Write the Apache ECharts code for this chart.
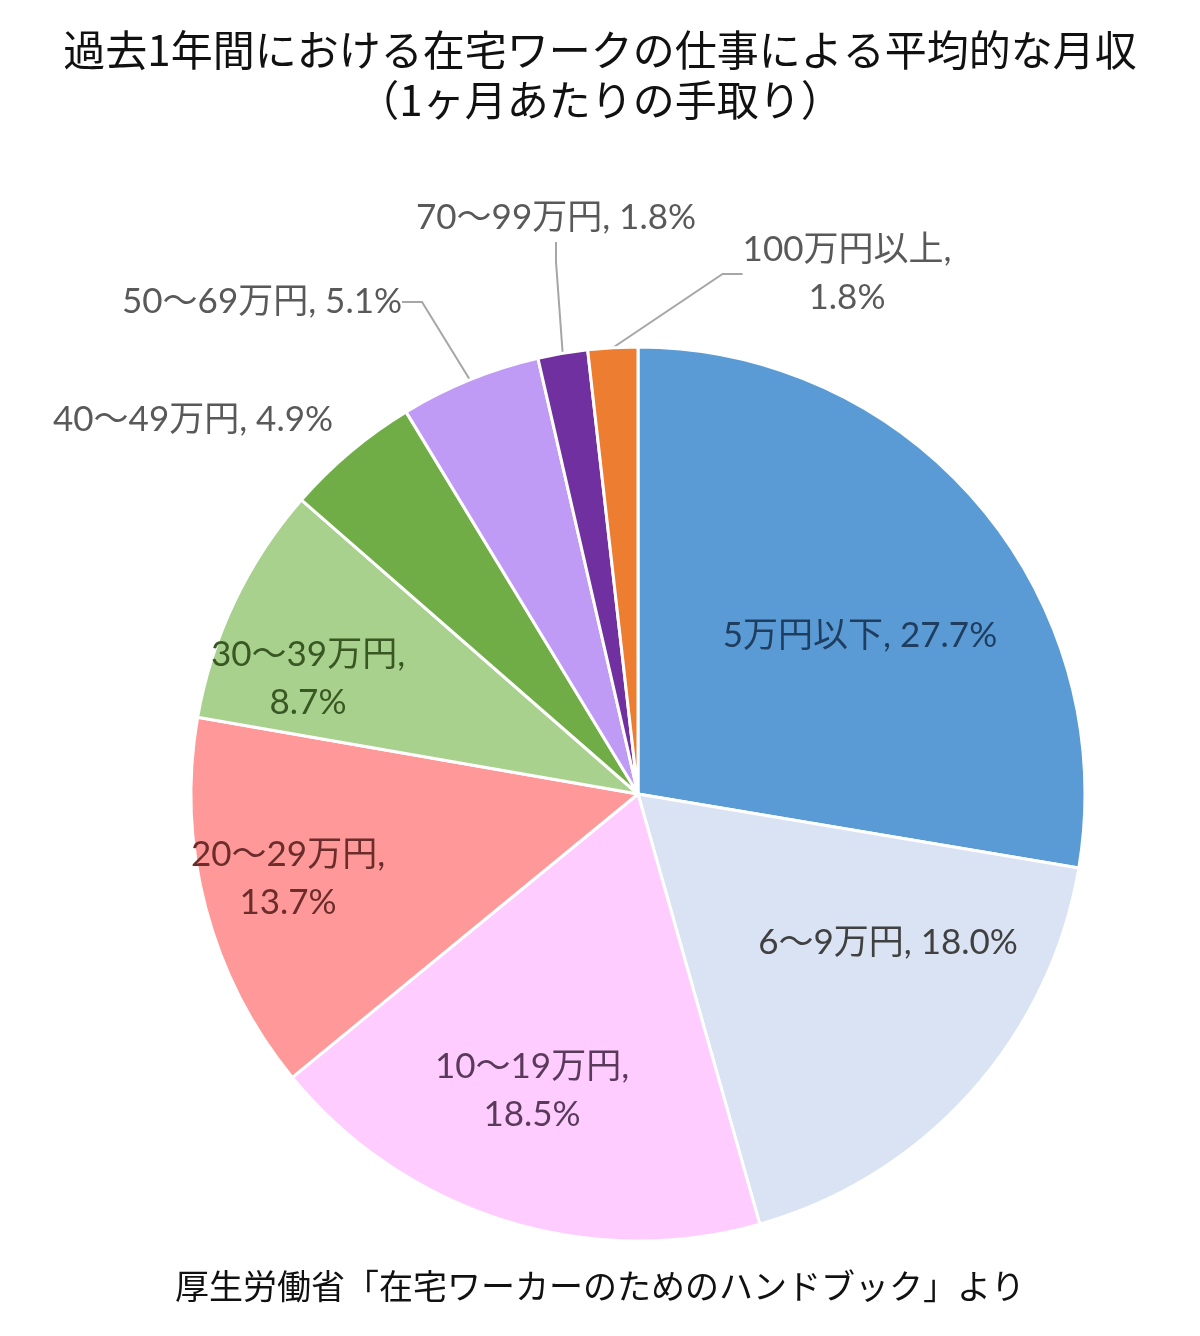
<!DOCTYPE html>
<html>
<head>
<meta charset="utf-8">
<script src="https://cdn.jsdelivr.net/npm/echarts@6/dist/echarts.min.js"></script>
<style>
  html, body { margin: 0; padding: 0; background: #fff; }
  #chart { width: 1200px; height: 1336px; }
</style>
</head>
<body>
<div id="chart"></div>
<script>
// 区分と割合 (%)
const categories = ['5万円以下', '6～9万円', '10～19万円', '20～29万円', '30～39万円', '40～49万円', '50～69万円', '70～99万円', '100万円以上']
const shares = [27.7, 18.0, 18.5, 13.7, 8.7, 4.9, 5.1, 1.8, 1.8]

const colors = ['#5B9BD5', '#DAE3F3', '#FFCCFF', '#FF9999', '#A9D18E', '#70AD47', '#BF9BF5', '#7030A0', '#ED7D31']
const labelColors = ['#1F3D5E', '#404040', '#5A3A5A', '#6B2C2C', '#385723', '#595959', '#595959', '#595959', '#595959']
const insideCount = 5
// ラベルを2行にする区分
const wrapLabel = [false, false, true, true, true, false, false, false, true]
// ラベル中心位置 (Excel の配置に合わせる)
const labelPos = [
  [860, 636], [888, 943], [532, 1091], [288, 879], [308, 679],
  [193, 420], [262, 302], [556, 218], [847, 274]
]
const hideLine = [false, false, false, false, false, true, false, false, false]

const font = "Lato, 'Noto Sans CJK JP', sans-serif"

const chart = echarts.init(document.getElementById('chart'))

const data = categories.map((name, i) => ({
  name,
  value: shares[i],
  itemStyle: { color: colors[i] },
  label: {
    position: i < insideCount ? 'inside' : 'outside',
    color: labelColors[i]
  },
  labelLine: { show: i >= insideCount && !hideLine[i] }
}))

chart.setOption({
  title: [
    {
      text: '過去1年間における在宅ワークの仕事による平均的な月収\n（1ヶ月あたりの手取り）',
      left: 'center',
      top: 20,
      textStyle: {
        fontFamily: "'Noto Sans CJK JP', sans-serif",
        fontSize: 42,
        fontWeight: 'normal',
        color: '#111',
        lineHeight: 50
      }
    },
    {
      text: '厚生労働省「在宅ワーカーのためのハンドブック」より',
      left: 'center',
      top: 1264,
      textStyle: {
        fontFamily: "'Noto Sans CJK JP', sans-serif",
        fontSize: 34,
        fontWeight: 'normal',
        color: '#111'
      }
    }
  ],
  series: [
    {
      type: 'pie',
      center: [638, 794],
      radius: 447,
      startAngle: 90,
      clockwise: true,
      avoidLabelOverlap: false,
      animation: false,
      data,
      itemStyle: {
        borderColor: '#fff',
        borderWidth: 3
      },
      label: {
        fontFamily: font,
        fontSize: 35,
        lineHeight: 48,
        align: 'center',
        formatter: (p) => {
          const v = p.value.toFixed(1) + '%'
          return wrapLabel[p.dataIndex] ? p.name + ',\n' + v : p.name + ', ' + v
        }
      },
      labelLine: {
        length: 20,
        length2: 20,
        lineStyle: { color: '#A6A6A6', width: 2 }
      },
      labelLayout: (params) => {
        const pos = labelPos[params.dataIndex]
        return {
          x: pos[0],
          y: pos[1],
          align: 'center',
          verticalAlign: 'middle'
        }
      }
    }
  ]
})
</script>
</body>
</html>
